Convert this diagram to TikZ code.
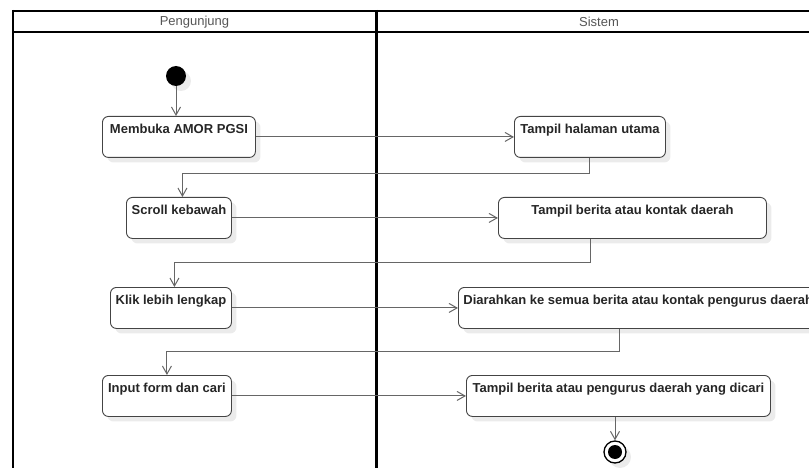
\documentclass[tikz,border=0pt]{standalone}
\usepackage{fontspec}
\setmainfont{Liberation Sans}
\usetikzlibrary{arrows.meta,shadows,calc}
\definecolor{linec}{HTML}{666666}
\definecolor{boxc}{HTML}{444444}
\definecolor{shadc}{HTML}{EBEBEB}
\definecolor{headc}{HTML}{555555}
\tikzset{
  shad/.style={drop shadow={shadow xshift=5pt,shadow yshift=-5pt,fill=shadc,opacity=1}},
  actbox/.style={draw=boxc,line width=0.9pt,rounded corners=6pt,fill=white,shad,
    font=\bfseries\fontsize{13}{15}\selectfont,text=black!85,
    text height=15pt,text depth=22pt,inner ysep=2pt,inner xsep=4pt,anchor=north west},
  arr/.style={draw=linec,line width=1pt,-{Straight Barb[length=8pt,width=9pt]}},
  flow/.style={draw=linec,line width=1pt},
  lane/.style={draw=black,line width=2pt},
  divider/.style={draw=black,line width=3pt},
  hline/.style={draw=black,line width=1.5pt},
  lanehead/.style={font=\fontsize{13}{15}\selectfont,text=headc,inner sep=0pt},
}
\begin{document}
\begin{tikzpicture}[x=1pt,y=-1pt]
\useasboundingbox (0,0) rectangle (809,468);
% swimlanes
\draw[hline] (13,11) -- (830,11);
\draw[hline] (13,32) -- (830,32);
\draw[lane] (13,10) -- (13,470);
\draw[divider] (376,10) -- (376,470);
\node[lanehead] (h1) at (194.5,22) {Pengunjung};
\node[lanehead] (h2) at (599,22) {Sistem};
% start
\node[circle,fill=black,minimum size=20pt,inner sep=0pt,shad] (start) at (176,76) {};
% activities
\node[actbox,minimum width=153pt] (a1) at (102,116) {Membuka AMOR PGSI};
\node[actbox,minimum width=151pt] (b1) at (514,116) {Tampil halaman utama};
\node[actbox,minimum width=105pt] (a2) at (126,197) {Scroll kebawah};
\node[actbox,minimum width=268pt] (b2) at (498,197) {Tampil berita atau kontak daerah};
\node[actbox,minimum width=121pt] (a3) at (110,287) {Klik lebih lengkap};
\node[actbox,inner xsep=5pt] (b3) at (458,287) {Diarahkan ke semua berita atau kontak pengurus daerah};
\node[actbox,minimum width=129pt] (a4) at (102,375) {Input form dan cari};
\node[actbox,minimum width=304pt] (b4) at (466,375) {Tampil berita atau pengurus daerah yang dicari};
% end
\node[circle,draw=black,line width=1.3pt,fill=white,minimum size=22pt,inner sep=0pt,shad] (end) at (615,452) {};
\node[circle,fill=black,minimum size=14pt,inner sep=0pt] (endin) at (end.center) {};
% connectors
\draw[arr] (start) -- (start |- a1.north);
\draw[arr] (a1.east) -- (b1.west);
\draw[arr] (b1.south) -- ($(b1.south)+(0,16)$) -| ([xshift=3.5pt]a2.north);
\draw[arr] (a2.east) -- (b2.west);
\draw[arr] ([xshift=-42pt]b2.south) -- ($(b2.south)+(-42,24)$) -| ([xshift=3.5pt]a3.north);
\draw[arr] (a3.east) -- (b3.west);
\draw[arr] (b3.south -| 619,0) -- (619,351) -| (a4.north);
\draw[arr] (a4.east) -- (b4.west);
\draw[arr] (b4.south -| end.north) -- (end.north);
\end{tikzpicture}
\end{document}
